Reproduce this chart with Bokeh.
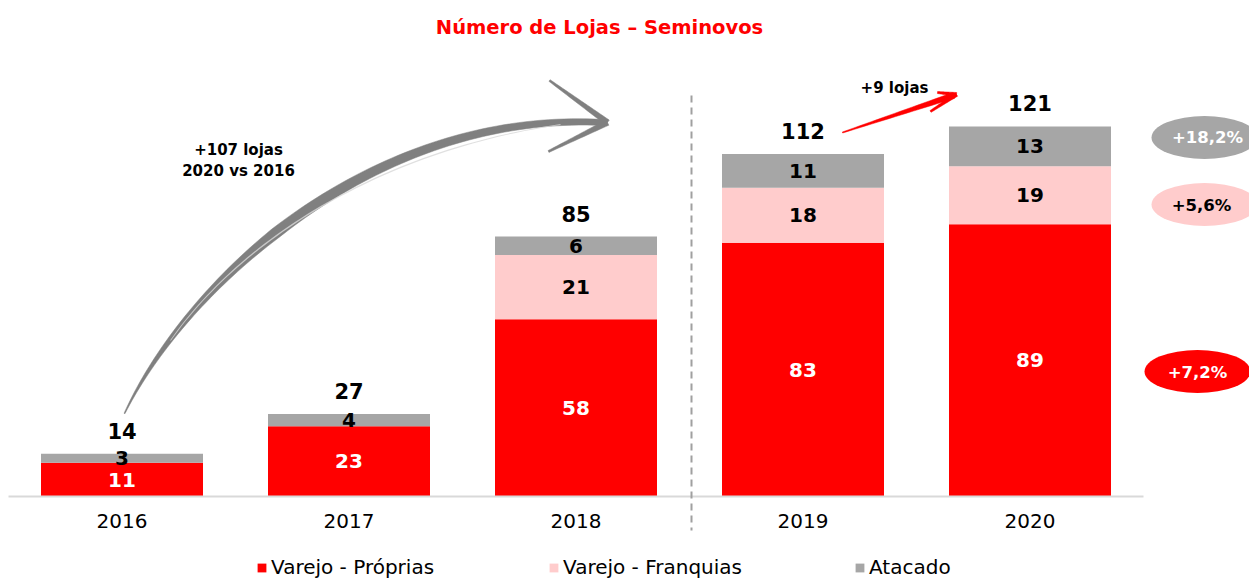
import numpy as np
from bokeh.plotting import figure
from bokeh.models import Range1d, LinearAxis, FixedTicker, Legend, LegendItem, ColumnDataSource
from bokeh.core.properties import value
from bokeh.embed import file_html
from bokeh.resources import INLINE

# ---------------- data ----------------
years = ["2016", "2017", "2018", "2019", "2020"]
varejo_proprias = [11, 23, 58, 83, 89]
varejo_franquias = [0, 0, 21, 18, 19]
atacado = [3, 4, 6, 11, 13]
series_names = ["Varejo - Próprias", "Varejo - Franquias", "Atacado"]
growth_labels = ["+7,2%", "+5,6%", "+18,2%"]   # Próprias, Franquias, Atacado
title_text = "Número de Lojas – Seminovos"
note_total = ["+107 lojas", "2020 vs 2016"]
note_last = "+9 lojas"

# ---------------- styling ----------------
RED, PINK, GREY = "#FF0000", "#FFCCCC", "#A6A6A6"
FONT = value("DejaVu Sans")
W, H = 1249, 579
PX_X = 227.0     # pixels per category step
PX_Y = 3.058     # pixels per store


def X(px):
    return (px - 121.5) / PX_X


def Y(py):
    return (496.0 - py) / PX_Y


p = figure(width=W, height=H, x_range=Range1d(X(0), X(W)), y_range=Range1d(Y(H), Y(0)),
           x_axis_type=None, y_axis_type=None, toolbar_location=None, output_backend="svg",
           min_border=0, outline_line_color=None, background_fill_color="white",
           border_fill_color="white")

xs = list(range(len(years)))
src = ColumnDataSource(dict(x=xs, prop=varejo_proprias, fran=varejo_franquias, atac=atacado))
rends = p.vbar_stack(["prop", "fran", "atac"], x="x", width=162 / 227, color=[RED, PINK, GREY],
                     line_color=None, source=src)

# baseline (axis line only under the bars area)
p.segment(x0=[-0.5], y0=[0], x1=[len(years) - 0.5], y1=[0], line_color="#D9D9D9", line_width=2)

# dashed separator between 2018 and 2019
p.segment(x0=[X(691)], y0=[Y(95)], x1=[X(691)], y1=[Y(530)], line_color="#A0A0A0", line_width=2,
          line_dash="7 5")

# x axis
xaxis = LinearAxis(ticker=FixedTicker(ticks=xs),
                   major_label_overrides={i: y for i, y in enumerate(years)},
                   fixed_location=0, axis_line_color=None, major_tick_line_color=None,
                   minor_tick_line_color=None, major_tick_out=0, major_tick_in=0,
                   major_label_standoff=17, major_label_text_font="DejaVu Sans",
                   major_label_text_font_size="20px", major_label_text_color="black")
p.add_layout(xaxis, "below")

# segment labels
lab = dict(text_font=FONT, text_font_style="bold", text_align="center", text_baseline="middle")
prop_y = [v / 2 for v in varejo_proprias]
p.text(x=xs, y=prop_y, text=[str(v) for v in varejo_proprias], text_color="white",
       text_font_size="20px", **lab)
fx = [x for x, f in zip(xs, varejo_franquias) if f > 0]
fy = [pp + f / 2 for pp, f in zip(varejo_proprias, varejo_franquias) if f > 0]
ft = [str(f) for f in varejo_franquias if f > 0]
p.text(x=fx, y=fy, text=ft, text_color="black", text_font_size="20px", **lab)
ay = [pp + f + a / 2 for pp, f, a in zip(varejo_proprias, varejo_franquias, atacado)]
p.text(x=xs, y=ay, text=[str(a) for a in atacado], text_color="black", text_font_size="20px", **lab)
totals = [pp + f + a for pp, f, a in zip(varejo_proprias, varejo_franquias, atacado)]
p.text(x=xs, y=totals, text=[str(t) for t in totals], text_color="black", text_font_size="21px",
       y_offset=-23, **lab)

# title
p.text(x=[X(599)], y=[Y(27)], text=[title_text], text_color=RED, text_font_size="19.5px", **lab)

# notes
p.text(x=[X(238), X(238)], y=[Y(149), Y(170)], text=note_total, text_color="black",
       text_font_size="15px", **lab)
p.text(x=[X(894)], y=[Y(87)], text=[note_last], text_color="black", text_font_size="15px", **lab)


# tapered brush strokes for arrows
def bez(p0, p1, p2, p3, n=90):
    t = np.linspace(0, 1, n)[:, None]
    p0, p1, p2, p3 = map(np.array, (p0, p1, p2, p3))
    return ((1 - t) ** 3) * p0 + 3 * ((1 - t) ** 2) * t * p1 + 3 * (1 - t) * t ** 2 * p2 + t ** 3 * p3, t[:, 0]


def stroke(pts, widths):
    d = np.gradient(pts, axis=0)
    ln = np.hypot(d[:, 0], d[:, 1])
    nrm = np.stack([-d[:, 1] / ln, d[:, 0] / ln], axis=1)
    left = pts + nrm * (widths[:, None] / 2)
    right = pts - nrm * (widths[:, None] / 2)
    poly = np.vstack([left, right[::-1]])
    return [X(v) for v in poly[:, 0]], [Y(v) for v in poly[:, 1]]


def line_stroke(a, b, w0, w1, n=20):
    t = np.linspace(0, 1, n)
    pts = np.array(a)[None, :] * (1 - t)[:, None] + np.array(b)[None, :] * t[:, None]
    return stroke(pts, w0 + (w1 - w0) * t)


ARROW_GREY = "#808080"
pts, t = bez((124, 413), (185, 285), (370, 110), (602, 122))
w = np.where(t < 0.45, 1 + 10 * t / 0.45, 11 - 5 * (t - 0.45) / 0.55)
gx, gy = stroke(pts, w)
p.patch(gx, gy, fill_color=ARROW_GREY, line_color=ARROW_GREY, line_width=0.5)
# subtle brush highlight
hl_pts, ht = bez((170, 340), (240, 240), (380, 150), (560, 124), n=60)
hx_, hy_ = stroke(hl_pts, 0.8 + 0.6 * np.sin(np.pi * ht))
p.patch(hx_, hy_, fill_color="#D8D8D8", line_color=None, fill_alpha=0.8)
for a in [(549, 80), (548, 151)]:
    hx, hy = line_stroke(a, (607, 122), 2, 6)
    p.patch(hx, hy, fill_color=ARROW_GREY, line_color=ARROW_GREY, line_width=0.5)

# red small arrow
rx, ry = line_stroke((842, 132), (953, 95), 1, 6)
p.patch(rx, ry, fill_color=RED, line_color=RED, line_width=0.5)
for a in [(937, 92), (930, 111)]:
    hx, hy = line_stroke(a, (956, 94), 2, 4)
    p.patch(hx, hy, fill_color=RED, line_color=RED, line_width=0.5)

# growth bubbles
ell_x = [X(1197), X(1204), X(1204)]
ell_y = [Y(371), Y(204), Y(137)]
p.ellipse(x=ell_x, y=ell_y, width=106, height=43, width_units="screen", height_units="screen",
          fill_color=[RED, PINK, GREY], line_color=None)
txt_x = [X(1197), X(1201), X(1207)]
txt_y = [Y(372), Y(205), Y(137)]
p.text(x=txt_x, y=txt_y, text=growth_labels, text_color=["white", "black", "white"],
       text_font_size="16.5px", **lab)

# legends (three separately placed items)
for r, name, px in zip(rends, series_names, [256, 548, 854]):
    lg = Legend(items=[LegendItem(label=name, renderers=[r])], location=(px, 0),
                orientation="horizontal", padding=0, margin=0, border_line_color=None,
                background_fill_alpha=0, glyph_width=11, glyph_height=11, label_standoff=4,
                label_text_font="DejaVu Sans", label_text_font_size="20px",
                label_text_color="black", spacing=0)
    p.add_layout(lg, "center")

open("out.html", "w").write(file_html(p, INLINE))
